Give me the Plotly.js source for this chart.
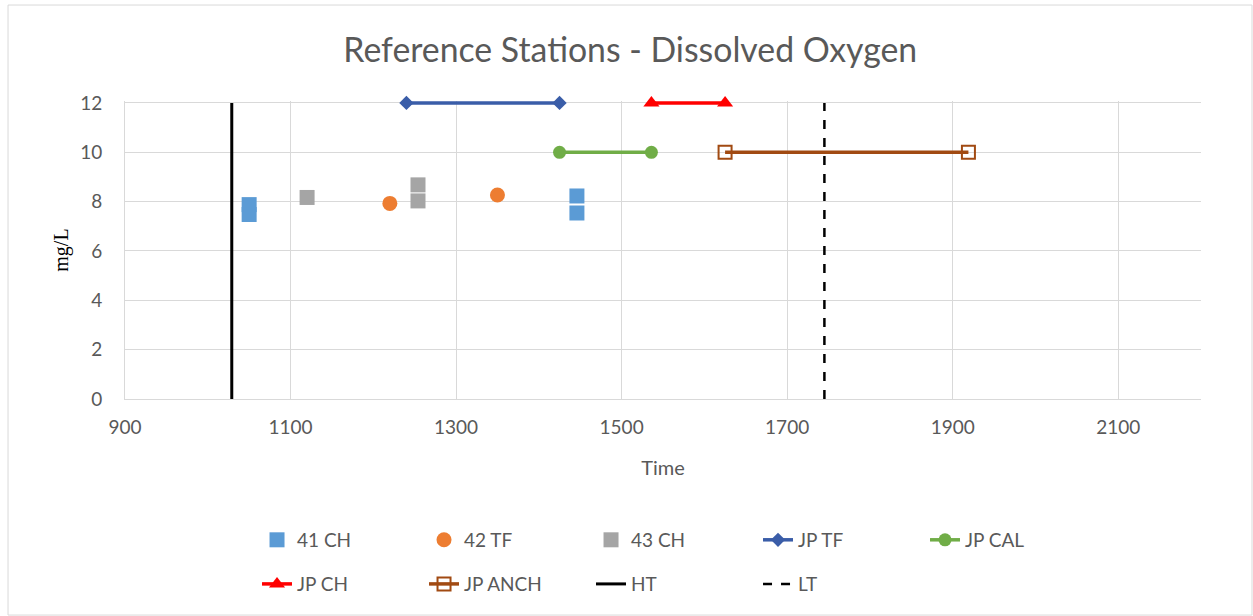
<!DOCTYPE html>
<html><head><meta charset="utf-8">
<script src="https://cdn.plot.ly/plotly-3.0.1.min.js"></script>
<style>html,body{margin:0;padding:0;background:#fff}#chart{width:1253px;height:616px}</style>
</head><body><div id="chart"></div>
<script>
// Scatter stations
const ch41X = [1050, 1050, 1446, 1446];
const ch41Y = [7.88, 7.48, 8.23, 7.54];
const tf42X = [1220, 1350];
const tf42Y = [7.93, 8.27];
const ch43X = [1120, 1254, 1254];
const ch43Y = [8.17, 8.68, 8.03];
// Tide / station periods
const jpTfX = [1240, 1425];   const jpTfY = [12, 12];
const jpCalX = [1425, 1536];  const jpCalY = [10, 10];
const jpChX = [1536, 1625];   const jpChY = [12, 12];
const jpAnchX = [1625, 1919]; const jpAnchY = [10, 10];
const htX = [1029, 1029];     const htY = [0, 12];
const ltX = [1745, 1745];     const ltY = [0, 12];
const xTicks = [900, 1100, 1300, 1500, 1700, 1900, 2100];
const yTicks = [0, 2, 4, 6, 8, 10, 12];

const FONT = 'Lato, "Open Sans", sans-serif';
const GREY = '#595959';

const traces = [
  {name:'41 CH', x:ch41X, y:ch41Y, mode:'markers', marker:{symbol:'square', size:15, color:'#5B9BD5'}, legend:'legend'},
  {name:'42 TF', x:tf42X, y:tf42Y, mode:'markers', marker:{symbol:'circle', size:15, color:'#ED7D31'}, legend:'legend'},
  {name:'43 CH', x:ch43X, y:ch43Y, mode:'markers', marker:{symbol:'square', size:15, color:'#A5A5A5'}, legend:'legend'},
  {name:'JP TF', x:jpTfX, y:jpTfY, mode:'lines+markers', line:{color:'#3A5DA8', width:3.5}, marker:{symbol:'diamond', size:11, color:'#3A5DA8'}, legend:'legend'},
  {name:'JP CAL', x:jpCalX, y:jpCalY, mode:'lines+markers', line:{color:'#70AD47', width:3.5}, marker:{symbol:'circle', size:13, color:'#70AD47'}, legend:'legend'},
  {name:'JP CH', x:jpChX, y:jpChY, mode:'lines+markers', line:{color:'#FF0000', width:3.5}, marker:{symbol:'triangle-up', size:14, color:'#FF0000'}, legend:'legend2'},
  {name:'JP ANCH', x:jpAnchX, y:jpAnchY, mode:'lines+markers', line:{color:'#A14A12', width:3.5}, marker:{symbol:'square-open', size:13, color:'#A14A12', line:{width:2}}, legend:'legend2'},
  {name:'HT', x:htX, y:htY, mode:'lines', line:{color:'#000000', width:3}, legend:'legend2'},
  {name:'LT', x:ltX, y:ltY, mode:'lines', line:{color:'#000000', width:2.5, dash:'dash'}, legend:'legend2'}
];
traces.forEach(t => { t.cliponaxis = false; });

const legendCommon = {orientation:'h', xanchor:'left', yanchor:'middle', x:0.1227,
  entrywidth:122, entrywidthmode:'pixels', font:{family:FONT, size:19, color:GREY},
  bgcolor:'rgba(0,0,0,0)', traceorder:'normal'};

const layout = {
  width:1253, height:616,
  margin:{l:125, r:52, t:101, b:217},
  paper_bgcolor:'#fff', plot_bgcolor:'#fff',
  font:{family:FONT, color:GREY},
  title:{text:'Reference Stations - Dissolved Oxygen', font:{family:FONT, size:33.8, color:GREY}, x:0.503, xref:'container', y:0.918, yanchor:'middle'},
  xaxis:{range:[900, 2200], tickvals:xTicks, ticks:'', showgrid:true, gridcolor:'#D9D9D9', gridwidth:1,
    showline:true, linecolor:'#D9D9D9', zeroline:false, tickfont:{family:FONT, size:19, color:GREY},
    ticklabelstandoff:11,
    title:{text:'Time', font:{family:FONT, size:20, color:GREY}, standoff:24}},
  yaxis:{range:[0, 12.08], tickvals:yTicks, ticks:'', showgrid:true, gridcolor:'#D9D9D9', gridwidth:1,
    showline:true, linecolor:'#D9D9D9', zeroline:false, tickfont:{family:FONT, size:19, color:GREY},
    ticklabelstandoff:18,
    title:{text:'mg/L', font:{family:'"Liberation Serif", "DejaVu Serif", serif', size:20, color:'#000'}, standoff:6}},
  legend:Object.assign({}, legendCommon, {y:-0.473}),
  legend2:Object.assign({}, legendCommon, {y:-0.621}),
  shapes:[{type:'rect', xref:'paper', yref:'paper', x0:-0.1087, x1:1.0474, y0:-0.725, y1:1.322,
    line:{color:'#D9D9D9', width:1}, layer:'below'}],
  showlegend:true,
  hovermode:false
};

Plotly.newPlot('chart', traces, layout, {displayModeBar:false, staticPlot:true});
</script></body></html>
